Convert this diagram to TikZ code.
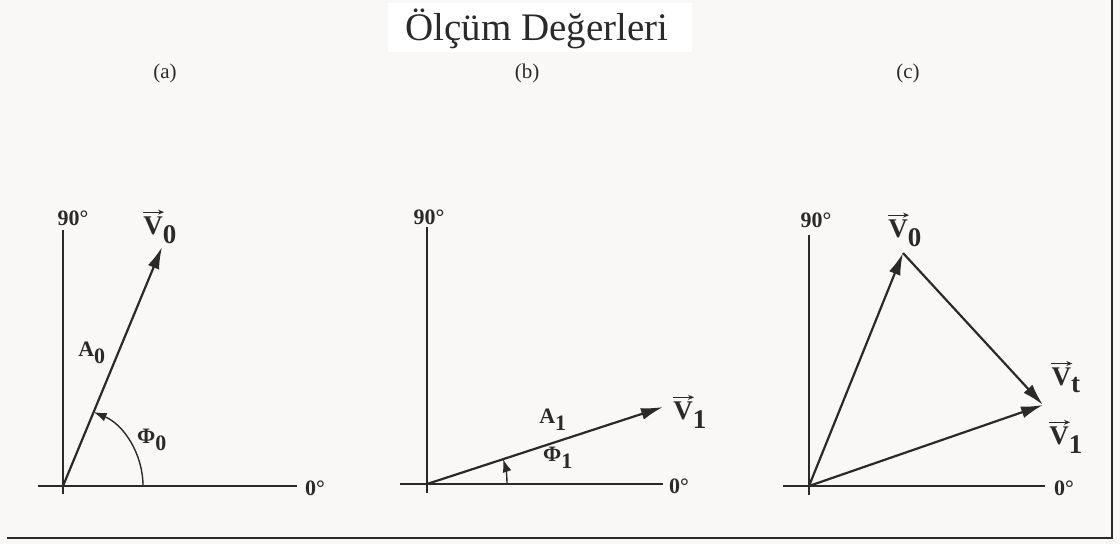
\documentclass[tikz,border=0pt]{standalone}
\usepackage{fontspec}
\setmainfont{Liberation Serif}
\usetikzlibrary{arrows.meta}
\definecolor{paper}{HTML}{FAF8F6}
\definecolor{ink}{HTML}{2A2A2A}
\tikzset{
  axis/.style={ink, line width=1.6pt},
  phasor/.style={ink, line width=2.2pt, -{Latex[length=22pt,width=12pt]}},
  anglearc/.style={ink, line width=1.4pt, -{Latex[length=13pt,width=9pt]}},
  vecbar/.style={ink, line width=1.1pt, -{Stealth[length=6pt,width=5pt]}},
  lbl/.style={ink, inner sep=0pt, font=\fontsize{22}{24}\selectfont\bfseries},
  vlbl/.style={ink, inner sep=0pt, font=\fontsize{27}{29}\selectfont\bfseries},
  tag/.style={ink, inner sep=0pt, font=\fontsize{21}{23}\selectfont},
}
% arrow over the V of a phasor label
\newcommand{\vecover}[1]{\draw[vecbar] ([xshift=0pt,yshift=4pt]#1.north west) -- ++(21pt,0);}

\begin{document}
\begin{tikzpicture}[x=1pt,y=-1pt]
    \useasboundingbox[fill=paper] (0,0) rectangle (1120,544);
    % frame and title
    \draw[ink, line width=2.5pt] (7,538) -- (1112,538) -- (1112,0);
    \fill[white] (388,3) rectangle (692,52);
    \node[ink, inner sep=0pt, font=\fontsize{39}{41}\selectfont] (title) at (537,29) {Ölçüm Değerleri};
    \node[tag] (taga) at (165,73) {(a)};
    \node[tag] (tagb) at (527,73) {(b)};
    \node[tag] (tagc) at (908,73) {(c)};

    % (a)
    \coordinate (Oa) at (63,486);
    \coordinate (Ya) at (63,230);
    \coordinate (Ya-) at (63,494);
    \coordinate (Xa) at (297,486);
    \coordinate (Xa-) at (38,486);
    \coordinate (V0a) at (162,247);
    \draw[axis] (Ya-) -- (Ya);
    \draw[axis] (Xa-) -- (Xa);
    \draw[phasor] (Oa) -- (V0a);
    \draw[anglearc] ([xshift=80pt]Oa) arc[start angle=0, end angle=-67.5, radius=80];
    \node[lbl] (nineta) at (73,218) {90°};
    \node[lbl, anchor=west] (zeroa) at (305,488) {0°};
    \node[vlbl] (labV0a) at (160,230) {V$_{\textbf{0}}$};
    \vecover{labV0a}
    \node[lbl] (labA0) at (92,353) {A$_{\textbf{0}}$};
    \node[lbl] (labPhi0) at (152,440) {Φ$_{\textbf{0}}$};

    % (b)
    \coordinate (Ob) at (427,484);
    \coordinate (Yb) at (427,227);
    \coordinate (Yb-) at (427,493);
    \coordinate (Xb) at (663,484);
    \coordinate (Xb-) at (400,484);
    \coordinate (V1b) at (663,407);
    \draw[axis] (Yb-) -- (Yb);
    \draw[axis] (Xb-) -- (Xb);
    \draw[phasor] (Ob) -- (V1b);
    \draw[anglearc] ([xshift=80pt]Ob) arc[start angle=0, end angle=-18.1, radius=80];
    \node[lbl] (ninetb) at (429,217) {90°};
    \node[lbl, anchor=west] (zerob) at (669,486) {0°};
    \node[vlbl] (labV1b) at (690,415) {V$_{\textbf{1}}$};
    \vecover{labV1b}
    \node[lbl] (labA1) at (553,420) {A$_{\textbf{1}}$};
    \node[lbl] (labPhi1) at (558,458) {Φ$_{\textbf{1}}$};

    % (c)
    \coordinate (Oc) at (809,486);
    \coordinate (Yc) at (809,235);
    \coordinate (Yc-) at (809,495);
    \coordinate (Xc) at (1045,486);
    \coordinate (Xc-) at (783,486);
    \coordinate (V0c) at (903,253);
    \coordinate (V1c) at (1043,405);
    \draw[axis] (Yc-) -- (Yc);
    \draw[axis] (Xc-) -- (Xc);
    \draw[phasor] (Oc) -- (V0c);
    \draw[phasor] (Oc) -- (V1c);
    \draw[phasor] (V0c) -- (V1c);
    \node[lbl] (ninetc) at (816,220) {90°};
    \node[lbl, anchor=west] (zeroc) at (1054,488) {0°};
    \node[vlbl] (labV0c) at (905,233) {V$_{\textbf{0}}$};
    \vecover{labV0c}
    \node[vlbl] (labVtc) at (1066,380) {V$_{\textbf{t}}$};
    \vecover{labVtc}
    \node[vlbl] (labV1c) at (1066,440) {V$_{\textbf{1}}$};
    \vecover{labV1c}
\end{tikzpicture}
\end{document}
